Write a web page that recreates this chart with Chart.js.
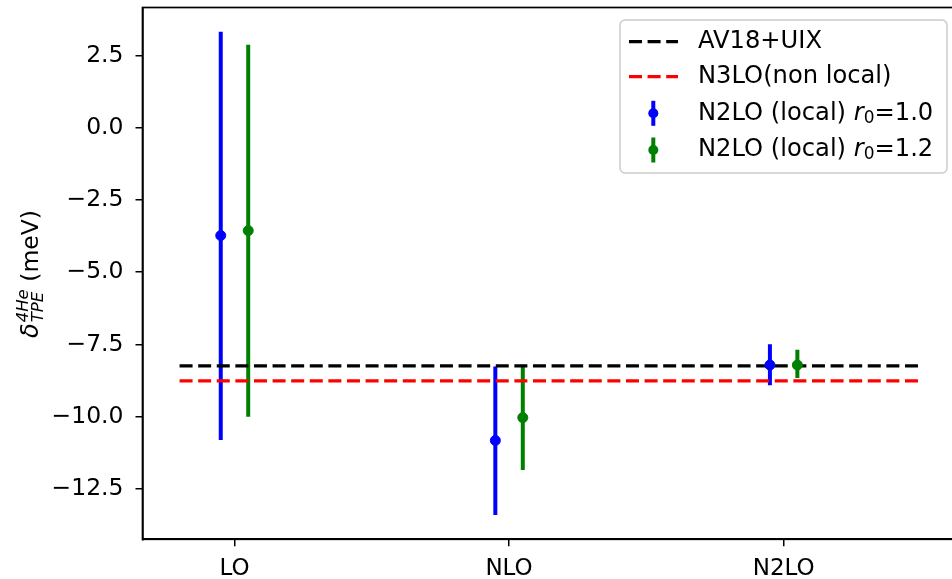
<!DOCTYPE html>
<html>
<head>
<meta charset="utf-8">
<script src="https://cdn.jsdelivr.net/npm/chart.js@4.4.1/dist/chart.umd.min.js"></script>
<style>
  html, body { margin: 0; padding: 0; background: #fff; overflow: hidden; }
  #wrap { width: 966px; height: 579px; }
</style>
</head>
<body>
<div id="wrap"><canvas id="chart"></canvas></div>
<script>
// categories and tick labels
const categories = ["LO", "NLO", "N2LO"];
const yTicks = [-12.5, -10, -7.5, -5, -2.5, 0, 2.5];

// N2LO (local) r0=1.0
const r10Value = [-3.73, -10.82, -8.21];
const r10Low = [-10.8, -13.4, -8.91];
const r10High = [3.32, -8.26, -7.49];

// N2LO (local) r0=1.2
const r12Value = [-3.56, -10.03, -8.21];
const r12Low = [-10.0, -11.84, -8.66];
const r12High = [2.87, -8.2, -7.68];

// reference lines
const av18Value = -8.24;
const n3loValue = -8.76;
const refSpan = [-0.2, 2.5];

const FONT = "'DejaVu Sans', sans-serif";
const BLUE = "#0000ff";
const GREEN = "#008000";

function barPoints(offset, low, high) {
  const pts = [];
  categories.forEach((c, i) => {
    pts.push({ x: i + offset, y: low[i] });
    pts.push({ x: i + offset, y: high[i] });
    pts.push({ x: i + offset, y: null });
  });
  return pts;
}

function centerPoints(offset, values) {
  return values.map((v, i) => ({ x: i + offset, y: v }));
}

function refLine(value) {
  return refSpan.map((x) => ({ x: x, y: value }));
}

const extras = {
  id: "extras",
  afterDraw(chart) {
    const ctx = chart.ctx;
    const a = chart.chartArea;
    ctx.save();

    // frame (top + right spines)
    ctx.strokeStyle = "#000";
    ctx.lineWidth = 1.7;
    ctx.strokeRect(a.left, a.top, a.right - a.left, a.bottom - a.top);

    // y axis label: delta^{4He}_{TPE} (meV)
    ctx.save();
    ctx.translate(30, 274);
    ctx.rotate(-Math.PI / 2);
    ctx.fillStyle = "#000";
    ctx.textBaseline = "alphabetic";
    const big = "italic 24px " + FONT;
    const small = "italic 16.5px " + FONT;
    const norm = "23.5px " + FONT;
    ctx.font = big;
    const wD = ctx.measureText("δ").width;
    ctx.font = small;
    const wS = Math.max(ctx.measureText("4He").width, ctx.measureText("TPE").width);
    ctx.font = norm;
    const wM = ctx.measureText(" (meV)").width;
    const total = wD + 1 + wS + wM;
    let x = -total / 2;
    const base = 8;
    ctx.font = big;
    ctx.fillText("δ", x, base);
    x += wD + 1;
    ctx.font = small;
    ctx.fillText("4He", x, base - 10);
    ctx.fillText("TPE", x, base + 5);
    x += wS;
    ctx.font = norm;
    ctx.fillText(" (meV)", x, base);
    ctx.restore();

    // legend
    const lx = 620, ly = 20, lw = 327, lh = 153;
    ctx.beginPath();
    ctx.roundRect(lx, ly, lw, lh, 5);
    ctx.fillStyle = "rgba(255,255,255,0.8)";
    ctx.fill();
    ctx.strokeStyle = "#cccccc";
    ctx.lineWidth = 1.5;
    ctx.stroke();

    const rows = [41.7, 76.7, 113.3, 150];
    ctx.lineWidth = 3.3;
    ctx.setLineDash([13, 5.6]);
    [["#000", rows[0]], ["#ff0000", rows[1]]].forEach(([col, y]) => {
      ctx.strokeStyle = col;
      ctx.beginPath();
      ctx.moveTo(629, y);
      ctx.lineTo(678, y);
      ctx.stroke();
    });
    ctx.setLineDash([]);
    [[BLUE, rows[2]], [GREEN, rows[3]]].forEach(([col, y]) => {
      ctx.strokeStyle = col;
      ctx.fillStyle = col;
      ctx.lineWidth = 4;
      ctx.beginPath();
      ctx.moveTo(653.3, y - 12.5);
      ctx.lineTo(653.3, y + 12.5);
      ctx.stroke();
      ctx.beginPath();
      ctx.arc(653.3, y, 5, 0, Math.PI * 2);
      ctx.fill();
    });

    ctx.fillStyle = "#000";
    ctx.textBaseline = "middle";
    const lf = "24.2px " + FONT;
    ctx.font = lf;
    ctx.fillText("AV18+UIX", 698, rows[0]);
    ctx.fillText("N3LO(non local)", 698, rows[1]);
    ["1.0", "1.2"].forEach((r, k) => {
      const y = rows[2 + k];
      let tx = 698;
      ctx.font = lf;
      const head = "N2LO (local) ";
      ctx.fillText(head, tx, y);
      tx += ctx.measureText(head).width;
      ctx.font = "italic 24.2px " + FONT;
      ctx.fillText("r", tx, y);
      tx += ctx.measureText("r").width;
      ctx.font = "17px " + FONT;
      ctx.fillText("0", tx, y + 5);
      tx += ctx.measureText("0").width;
      ctx.font = lf;
      ctx.fillText("=" + r, tx, y);
    });

    ctx.restore();
  },
};

new Chart(document.getElementById("chart"), {
  type: "scatter",
  data: {
    datasets: [
      {
        data: centerPoints(-0.05, r10Value),
        backgroundColor: BLUE,
        borderColor: BLUE,
        pointRadius: 5,
        order: 0,
      },
      {
        data: centerPoints(0.05, r12Value),
        backgroundColor: GREEN,
        borderColor: GREEN,
        pointRadius: 5,
        order: 0,
      },
      {
        data: refLine(av18Value),
        showLine: true,
        borderColor: "#000",
        borderWidth: 3.3,
        borderDash: [13, 5.6],
        pointRadius: 0,
        order: 1,
      },
      {
        data: refLine(n3loValue),
        showLine: true,
        borderColor: "#ff0000",
        borderWidth: 3.3,
        borderDash: [13, 5.6],
        pointRadius: 0,
        order: 1,
      },
      {
        data: barPoints(-0.05, r10Low, r10High),
        showLine: true,
        spanGaps: false,
        borderColor: BLUE,
        borderWidth: 4,
        pointRadius: 0,
        order: 2,
      },
      {
        data: barPoints(0.05, r12Low, r12High),
        showLine: true,
        spanGaps: false,
        borderColor: GREEN,
        borderWidth: 4,
        pointRadius: 0,
        order: 2,
      },
    ],
  },
  options: {
    responsive: true,
    maintainAspectRatio: false,
    animation: false,
    events: [],
    layout: { padding: { top: 7.5, right: 8, left: 0, bottom: 0 } },
    plugins: {
      legend: { display: false },
      tooltip: { enabled: false },
    },
    scales: {
      x: {
        type: "linear",
        min: -0.335,
        max: 2.635,
        afterBuildTicks: (scale) => {
          scale.ticks = categories.map((c, i) => ({ value: i }));
        },
        afterFit: (scale) => {
          scale.height = 39.7;
          scale.paddingLeft = 0;
          scale.paddingRight = 0;
        },
        grid: {
          drawOnChartArea: false,
          drawTicks: true,
          tickLength: 7,
          color: "#000",
          lineWidth: 1.5,
        },
        border: { display: true, color: "#000", width: 1.7 },
        ticks: {
          color: "#000",
          padding: 9,
          maxRotation: 0,
          font: { family: FONT, size: 23 },
          callback: (v) => categories[Math.round(v)],
        },
      },
      y: {
        min: -14.24,
        max: 4.16,
        afterBuildTicks: (scale) => {
          scale.ticks = yTicks.map((v) => ({ value: v }));
        },
        afterFit: (scale) => {
          scale.width = 142.5;
          scale.paddingTop = 0;
          scale.paddingBottom = 0;
        },
        grid: {
          drawOnChartArea: false,
          drawTicks: true,
          tickLength: 7,
          color: "#000",
          lineWidth: 1.5,
        },
        border: { display: true, color: "#000", width: 1.7 },
        ticks: {
          color: "#000",
          padding: 12,
          font: { family: FONT, size: 23.5 },
          callback: (v) => v.toFixed(1).replace("-", "\u2212"),
        },
      },
    },
  },
  plugins: [extras],
});
</script>
</body>
</html>
